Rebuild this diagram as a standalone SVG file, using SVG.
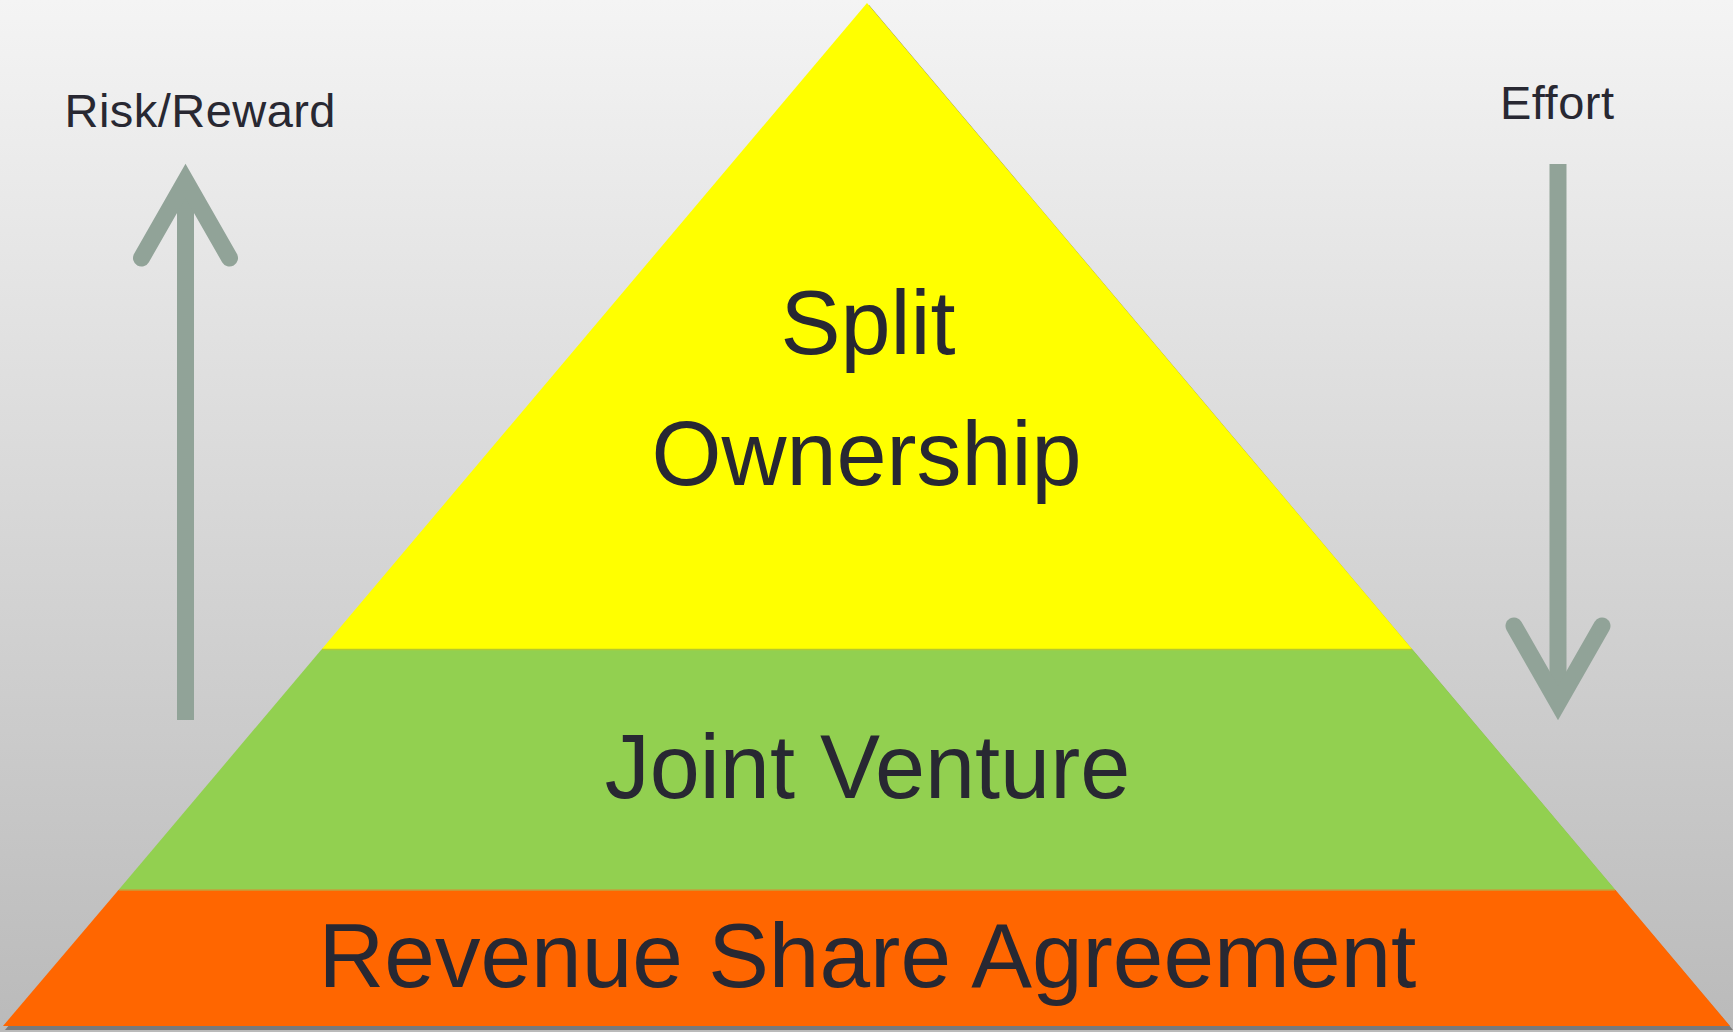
<svg xmlns="http://www.w3.org/2000/svg" width="1733" height="1032" viewBox="0 0 1733 1032">
  <defs>
    <linearGradient id="bg" x1="0" y1="0" x2="0" y2="1">
      <stop offset="0" stop-color="#f4f4f4"/>
      <stop offset="1" stop-color="#bababa"/>
    </linearGradient>
  </defs>
  <style>
    .lbl { font-family: "Liberation Sans", Arial, sans-serif; fill: #282832; }
    .big { font-size: 90px; }
    .small { font-size: 47px; }
    .arrow { fill: none; stroke: #91a398; stroke-width: 17; }
    .head { stroke-linecap: round; stroke-linejoin: miter; stroke-miterlimit: 10; }
  </style>
  <rect x="0" y="0" width="1733" height="1032" fill="url(#bg)"/>

  <!-- pyramid shadow -->
  <polygon points="869,5 1733,1030 5,1030" fill="#7a7a7a"/>

  <g id="tier-split">
    <polygon points="867,3 1412.5,649.5 321.5,649.5" fill="#ffff00"/>
    <text class="lbl big" x="868" y="354" text-anchor="middle">Split</text>
    <text class="lbl big" x="866.5" y="485" text-anchor="middle">Ownership</text>
  </g>

  <g id="tier-joint">
    <polygon points="321.5,649.5 1412.5,649.5 1615.5,890 118.5,890" fill="#92d050"/>
    <line x1="322" y1="649.5" x2="1412" y2="649.5" stroke="#b6c92c" stroke-width="1.5"/>
    <text class="lbl big" x="867.5" y="798" text-anchor="middle">Joint Venture</text>
  </g>

  <g id="tier-revenue">
    <polygon points="118.5,890 1615.5,890 1730,1026 3,1026" fill="#ff6600"/>
    <line x1="119" y1="890" x2="1615" y2="890" stroke="#c6a03a" stroke-width="1.5"/>
    <text class="lbl big" x="867.5" y="987" text-anchor="middle" style="font-size:91px">Revenue Share Agreement</text>
  </g>

  <g id="risk-reward">
    <text class="lbl small" x="64.5" y="126.5" textLength="271" lengthAdjust="spacing">Risk/Reward</text>
    <line class="arrow" x1="185.5" y1="720" x2="185.5" y2="185"/>
    <polyline class="arrow head" points="141.5,258 185.5,181 229.5,258"/>
  </g>

  <g id="effort">
    <text class="lbl small" x="1500" y="119.3" textLength="114" lengthAdjust="spacing">Effort</text>
    <line class="arrow" x1="1558" y1="164" x2="1558" y2="700"/>
    <polyline class="arrow head" points="1514,626 1558,703 1602,626"/>
  </g>
</svg>
